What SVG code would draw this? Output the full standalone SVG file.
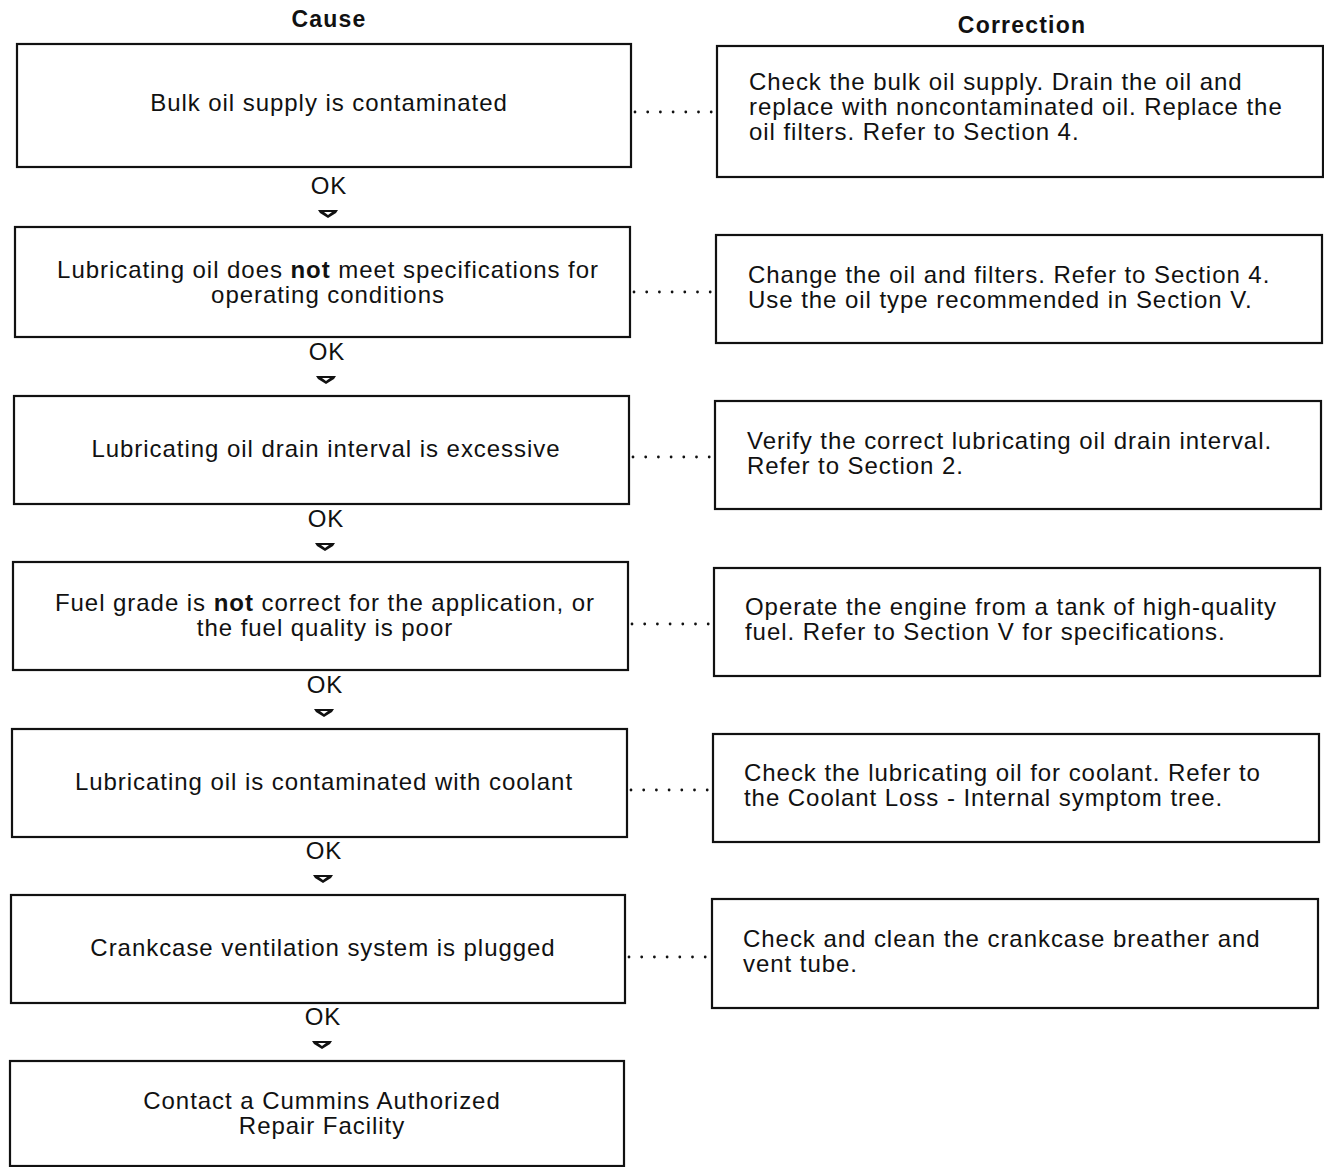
<svg xmlns="http://www.w3.org/2000/svg" width="1324" height="1167" viewBox="0 0 1324 1167">
<defs>
<style>
.box{fill:#fff;stroke:#111;stroke-width:2.2}
.t{font-family:"Liberation Sans",Arial,Helvetica,sans-serif;font-size:24px;letter-spacing:0.95px;fill:#111}
.c{text-anchor:middle}
.h{font-family:"Liberation Sans",Arial,Helvetica,sans-serif;font-size:23px;letter-spacing:1.2px;font-weight:bold;fill:#111;text-anchor:middle}
.dot{stroke:#111;stroke-width:2.8;stroke-linecap:round;stroke-dasharray:0 12.7;fill:none}
</style>
<path id="arr" d="M-10,-3 L10,-3 L8,0 L0,5 L-8,0 Z M-4,-1 L4,-1 L0,2 Z" fill="#111" fill-rule="evenodd"/>
</defs>
<rect width="1324" height="1167" fill="#fff"/>
<text class="h" x="329" y="27">Cause</text>
<text class="h" x="1022" y="33">Correction</text>

<g id="cause1"><rect class="box" x="17" y="44" width="614" height="123"/>
<text class="t c" x="329" y="111">Bulk oil supply is contaminated</text></g>
<g id="cause2"><rect class="box" x="15" y="227" width="615" height="110"/>
<text class="t c" x="328" y="278">Lubricating oil does <tspan font-weight="bold">not</tspan> meet specifications for</text>
<text class="t c" x="328" y="303">operating conditions</text></g>
<g id="cause3"><rect class="box" x="14" y="396" width="615" height="108"/>
<text class="t c" x="326" y="457">Lubricating oil drain interval is excessive</text></g>
<g id="cause4"><rect class="box" x="13" y="562" width="615" height="108"/>
<text class="t c" x="325" y="611">Fuel grade is <tspan font-weight="bold">not</tspan> correct for the application, or</text>
<text class="t c" x="325" y="636">the fuel quality is poor</text></g>
<g id="cause5"><rect class="box" x="12" y="729" width="615" height="108"/>
<text class="t c" x="324" y="790">Lubricating oil is contaminated with coolant</text></g>
<g id="cause6"><rect class="box" x="11" y="895" width="614" height="108"/>
<text class="t c" x="323" y="956">Crankcase ventilation system is plugged</text></g>
<g id="cause7"><rect class="box" x="10" y="1061" width="614" height="105"/>
<text class="t c" x="322" y="1109">Contact a Cummins Authorized</text>
<text class="t c" x="322" y="1134">Repair Facility</text></g>

<g id="corr1"><rect class="box" x="717" y="46" width="606" height="131"/>
<text class="t" x="749" y="90">Check the bulk oil supply. Drain the oil and</text>
<text class="t" x="749" y="115">replace with noncontaminated oil. Replace the</text>
<text class="t" x="749" y="140">oil filters. Refer to Section 4.</text></g>
<g id="corr2"><rect class="box" x="716" y="235" width="606" height="108"/>
<text class="t" x="748" y="283">Change the oil and filters. Refer to Section 4.</text>
<text class="t" x="748" y="308">Use the oil type recommended in Section V.</text></g>
<g id="corr3"><rect class="box" x="715" y="401" width="606" height="108"/>
<text class="t" x="747" y="449">Verify the correct lubricating oil drain interval.</text>
<text class="t" x="747" y="474">Refer to Section 2.</text></g>
<g id="corr4"><rect class="box" x="714" y="568" width="606" height="108"/>
<text class="t" x="745" y="615">Operate the engine from a tank of high-quality</text>
<text class="t" x="745" y="640">fuel. Refer to Section V for specifications.</text></g>
<g id="corr5"><rect class="box" x="713" y="734" width="606" height="108"/>
<text class="t" x="744" y="781">Check the lubricating oil for coolant. Refer to</text>
<text class="t" x="744" y="806">the Coolant Loss - Internal symptom tree.</text></g>
<g id="corr6"><rect class="box" x="712" y="899" width="606" height="109"/>
<text class="t" x="743" y="947">Check and clean the crankcase breather and</text>
<text class="t" x="743" y="972">vent tube.</text></g>

<g id="connectors">
<text class="t c" x="329" y="194">OK</text><use href="#arr" x="328" y="213"/>
<text class="t c" x="327" y="360">OK</text><use href="#arr" x="326" y="379"/>
<text class="t c" x="326" y="527">OK</text><use href="#arr" x="325" y="546"/>
<text class="t c" x="325" y="693">OK</text><use href="#arr" x="324" y="712"/>
<text class="t c" x="324" y="859">OK</text><use href="#arr" x="323" y="878"/>
<text class="t c" x="323" y="1025">OK</text><use href="#arr" x="322" y="1044"/>
<line class="dot" x1="635" y1="112" x2="712" y2="112"/>
<line class="dot" x1="634" y1="292" x2="711" y2="292"/>
<line class="dot" x1="633" y1="457" x2="710" y2="457"/>
<line class="dot" x1="632" y1="624" x2="709" y2="624"/>
<line class="dot" x1="631" y1="790" x2="708" y2="790"/>
<line class="dot" x1="629" y1="957" x2="706" y2="957"/>
</g>
</svg>
